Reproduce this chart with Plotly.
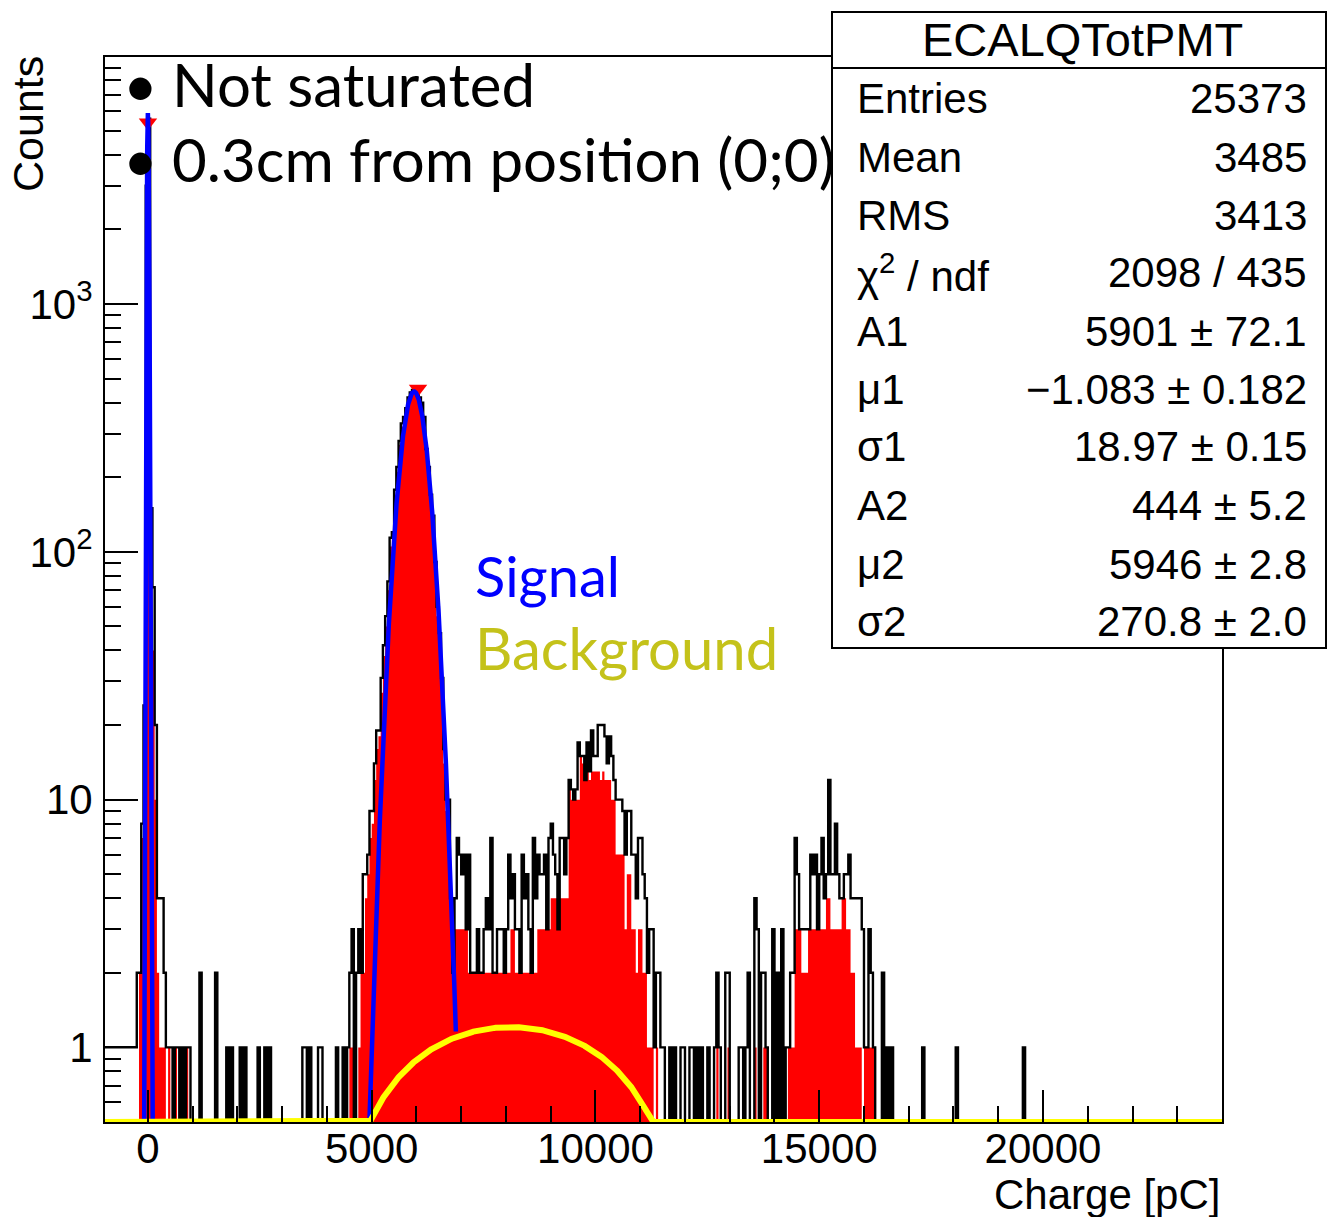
import numpy as np
import plotly.graph_objects as go

# ---------------- data ----------------
BIN_WIDTH = 50          # pC per bin
HIST_START = -1000      # left edge of first bin
N_BINS = 500

# dense block around the pedestal peak, bins starting at -1000 pC
zero_block_start = -1000
zero_black = [1, 1, 1, 1, 1, 1, 1, 1, 1, 1, 1, 1, 1, 1, 1,
              2, 2, 8, 24, 3000, 5600, 150, 72, 20, 4, 4, 4, 2, 1, 1, 1, 0, 1, 1, 0, 1]
zero_red = [0, 0, 0, 0, 0, 0, 0, 0, 0, 0, 0, 0, 0, 0, 0,
            0, 2, 7, 20, 3000, 5600, 150, 40, 10, 2, 1, 1, 1, 0, 1, 0, 0, 1, 0, 0, 0]

# isolated entries between the two peaks
low_bins = [850, 900, 1150, 1500, 1750, 1850, 2050, 2150, 2450, 2600, 2700,
            3450, 3500, 3600, 3800, 3850, 4200]
low_black = [1, 1, 2, 2, 1, 1, 1, 1, 1, 1, 1, 1, 1, 1, 1, 1, 1]
low_red = [1, 0, 1, 0, 0, 0, 0, 0, 0, 0, 0, 0, 0, 0, 0, 0, 0]

# signal peak block, bins starting at 4300 pC
signal_block_start = 4300
signal_black = [0, 1, 0, 1, 2, 3, 0, 2, 3, 2, 5, 5, 6, 9, 9, 14, 19, 19, 31, 42,
                55, 76, 114, 120, 178, 220, 280, 330, 350, 380, 420, 440, 450, 455, 445, 420,
                400, 350, 260, 220, 170, 140, 91, 60, 47, 31, 16, 10, 10]
signal_red = [0, 1, 0, 0, 1, 1, 0, 0, 1, 2, 2, 4, 5, 7, 8, 12, 16, 18, 27, 38,
              50, 70, 105, 115, 165, 210, 270, 320, 345, 375, 415, 435, 445, 450, 440, 415,
              390, 340, 250, 210, 160, 130, 85, 55, 42, 28, 14, 9, 6]

# middle block, bins starting at 6750 pC
mid_block_start = 6750
mid_black = [4, 2, 4, 7, 6, 5, 6, 3, 6, 2,
             2, 2, 3, 2, 2, 3, 4, 3, 7, 2,
             2, 3, 3, 3, 2, 3, 6, 4, 5, 3,
             3, 2, 6, 4, 5, 3, 2, 7, 4, 6,
             5, 5, 6, 3, 7, 8, 6, 5, 3, 7,
             7, 5, 7, 12, 11, 10, 11, 17, 15, 15,
             12, 17, 13, 19, 15, 15, 20, 20, 20, 18,
             14, 18, 15, 12, 10, 10, 10, 9, 6, 9,
             9, 6, 6, 4, 7, 7, 5, 4, 2, 3,
             3, 1, 2, 2]
mid_red = [4, 2, 3, 3, 3, 3, 3, 3, 2, 2,
           2, 2, 2, 2, 2, 2, 2, 2, 2, 2,
           2, 2, 2, 2, 2, 2, 2, 3, 3, 2,
           2, 2, 2, 2, 2, 2, 2, 2, 2, 3,
           3, 3, 3, 3, 3, 4, 4, 4, 3, 4,
           4, 4, 4, 11, 10, 10, 10, 10, 15, 14,
           12, 13, 12, 13, 13, 13, 13, 12, 13, 12,
           12, 12, 10, 10, 6, 6, 6, 6, 3, 5,
           5, 3, 3, 2, 3, 3, 2, 2, 1, 1,
           1, 0, 1, 0]

# right cluster (sparse bins)
right_bins = [11450, 11500, 11650, 11750, 11900, 11950, 12100, 12150, 12250, 12350,
              12500, 12650, 12700, 12750, 12900, 12950, 13200, 13250, 13350, 13400,
              13550, 13600, 13700, 13750, 13800, 13950, 14050, 14150, 14250, 14300,
              14350, 14400, 14450, 14500, 14550, 14600, 14650, 14700, 14750, 14800,
              14850, 14900, 14950, 15000, 15050, 15100, 15150, 15200, 15250, 15300,
              15350, 15400, 15450, 15500, 15550, 15600, 15650, 15700, 15750, 15800,
              15850, 15900, 15950, 16000, 16050, 16100, 16150, 16200, 16400, 16500,
              16600]
right_black = [1, 1, 1, 1, 1, 1, 1, 1, 1, 1,
               1, 1, 2, 1, 2, 2, 1, 1, 1, 2,
               4, 3, 2, 2, 1, 3, 2, 3, 1, 1,
               2, 2, 7, 5, 3, 3, 3, 3, 3, 6,
               5, 6, 3, 5, 7, 4, 5, 12, 5, 5,
               8, 5, 4, 4, 5, 5, 6, 4, 4, 4,
               4, 4, 3, 1, 1, 3, 2, 1, 2, 1,
               1]
right_red = [0, 0, 0, 0, 0, 0, 0, 0, 0, 0,
             0, 0, 1, 0, 0, 1, 0, 0, 0, 0,
             1, 0, 0, 1, 1, 1, 0, 0, 0, 1,
             1, 1, 3, 3, 3, 2, 2, 2, 3, 3,
             3, 3, 3, 3, 3, 3, 4, 4, 3, 3,
             3, 3, 3, 4, 4, 3, 3, 2, 2, 1,
             1, 1, 0, 1, 1, 1, 1, 1, 0, 0,
             0]

tail_bins = [17300, 18050, 19550]
tail_black = [1, 1, 1]

# fit parameters (from the stats box) and background shape
A1, MU1, SIGMA1 = 5901.0, -1.083, 18.97
A2, MU2, SIGMA2 = 444.0, 5946.0, 270.8
SIGNAL_RANGE = (-300, 6880)
BKG_PEAK, BKG_CENTER, BKG_CURV = 1.208, 8110.0, 7.14e-8

# peak markers
peak_x = [0, 6035]
peak_y = [5400, 455]

# axes
X_MIN, X_MAX = -960, 24000
LOG_Y_MIN, LOG_Y_MAX = -0.301, 3.997
x_tick_vals = [0, 5000, 10000, 15000, 20000]
x_tick_text = ["0", "5000", "10000", "15000", "20000"]
y_tick_vals = [1, 10, 100, 1000]
y_tick_text = ["1", "10", "10<sup>2</sup>", "10<sup>3</sup>"]

stats_title = "ECALQTotPMT"
stats_labels = ["Entries", "Mean", "RMS", "χ<sup>2</sup> / ndf", "A1", "μ1", "σ1", "A2", "μ2", "σ2"]
stats_values = ["25373", "3485", "3413", "2098 / 435", "5901 ± 72.1", "−1.083 ± 0.182",
                "18.97 ± 0.15", "444 ± 5.2", "5946 ± 2.8", "270.8 ± 2.0"]

# ---------------- build histograms ----------------
black = np.zeros(N_BINS)
red = np.zeros(N_BINS)


def put_block(arr, start, vals):
    i0 = (start - HIST_START) // BIN_WIDTH
    arr[i0:i0 + len(vals)] = vals


def put_sparse(arr, bins, vals):
    for b, v in zip(bins, vals):
        arr[(b - HIST_START) // BIN_WIDTH] = v


put_block(black, zero_block_start, zero_black)
put_block(red, zero_block_start, zero_red)
put_sparse(black, low_bins, low_black)
put_sparse(red, low_bins, low_red)
put_block(black, signal_block_start, signal_black)
put_block(red, signal_block_start, signal_red)
put_block(black, mid_block_start, mid_black)
put_block(red, mid_block_start, mid_red)
put_sparse(black, right_bins, right_black)
put_sparse(red, right_bins, right_red)
put_sparse(black, tail_bins, tail_black)

FLOOR = 1e-3
edges = HIST_START + BIN_WIDTH * np.arange(N_BINS + 1)
black_step = np.where(np.append(black, black[-1]) > 0, np.append(black, black[-1]), FLOOR)
red_step = np.where(np.append(red, red[-1]) > 0, np.append(red, red[-1]), FLOOR)

Y_MIN = 10 ** LOG_Y_MIN
xs = np.linspace(SIGNAL_RANGE[0], SIGNAL_RANGE[1], 3591)
sig = A1 * np.exp(-0.5 * ((xs - MU1) / SIGMA1) ** 2) + A2 * np.exp(-0.5 * ((xs - MU2) / SIGMA2) ** 2)
sig = np.maximum(sig, Y_MIN)
xb = np.linspace(X_MIN, X_MAX, 2500)
bkg = np.maximum(BKG_PEAK - BKG_CURV * (xb - BKG_CENTER) ** 2, Y_MIN)

# ---------------- figure ----------------
fig = go.Figure()
fig.add_trace(go.Scatter(x=[edges[0], edges[-1]], y=[FLOOR, FLOOR], mode="lines",
                         line=dict(width=0), hoverinfo="skip", showlegend=False))
fig.add_trace(go.Scatter(x=edges, y=red_step, mode="lines",
                         line=dict(width=0, shape="hv", color="#ff0000"),
                         fill="tonexty", fillcolor="#ff0000", showlegend=False))
fig.add_trace(go.Scatter(x=edges, y=black_step, mode="lines",
                         line=dict(color="black", width=2.4, shape="hv"), showlegend=False))
fig.add_trace(go.Scatter(x=peak_x, y=peak_y, mode="markers",
                         marker=dict(symbol="triangle-down", size=16, color="#ff0000",
                                     line=dict(width=0)), showlegend=False))
fig.add_trace(go.Scatter(x=xs, y=sig, mode="lines", line=dict(color="#0000ff", width=4.5),
                         showlegend=False))
fig.add_trace(go.Scatter(x=xb, y=bkg, mode="lines", line=dict(color="#ffff00", width=6),
                         showlegend=False))

W, H = 1327, 1217
L, R, T, B = 105, 1222, 57, 1122


def px(xp):
    return (xp - L) / (R - L)


def py(yp):
    return (B - yp) / (B - T)


HELV = "Liberation Sans"
GILL = "Lato"

annotations = []
# axis titles
annotations.append(dict(text="Counts", x=px(28), y=py(124), xref="paper", yref="paper",
                        textangle=-90, showarrow=False, xanchor="center", yanchor="middle",
                        font=dict(family=HELV, size=43, color="black")))
annotations.append(dict(text="Charge [pC]", x=1.0, y=py(1194), xref="paper", yref="paper",
                        showarrow=False, xanchor="right", yanchor="middle",
                        font=dict(family=HELV, size=42, color="black")))
# bullet lines
for yy, txt in [(84, "Not saturated"), (159, "0.3cm from position (0;0)")]:
    annotations.append(dict(text="•", x=px(140), y=py(yy), xref="paper", yref="paper",
                            showarrow=False, xanchor="center", yanchor="middle",
                            font=dict(family=GILL, size=60, color="black")))
    annotations.append(dict(text=txt, x=px(170), y=py(yy), xref="paper", yref="paper",
                            showarrow=False, xanchor="left", yanchor="middle",
                            font=dict(family=GILL, size=60, color="black")))
annotations.append(dict(text="Signal", x=px(473), y=py(575), xref="paper", yref="paper",
                        showarrow=False, xanchor="left", yanchor="middle",
                        font=dict(family=GILL, size=56, color="#0000ff")))
annotations.append(dict(text="Background", x=px(473), y=py(647), xref="paper", yref="paper",
                        showarrow=False, xanchor="left", yanchor="middle",
                        font=dict(family=GILL, size=58, color="#c4c21a")))
# stats box text
annotations.append(dict(text=stats_title, x=px(1082), y=py(40), xref="paper", yref="paper",
                        showarrow=False, xanchor="center", yanchor="middle",
                        font=dict(family=HELV, size=47, color="black")))
row_y = [99, 157, 215, 273, 331, 389, 447, 506, 564, 621]
for yy, lab, val in zip(row_y, stats_labels, stats_values):
    annotations.append(dict(text=lab, x=px(855), y=py(yy), xref="paper", yref="paper",
                            showarrow=False, xanchor="left", yanchor="middle",
                            font=dict(family=HELV, size=42, color="black")))
    annotations.append(dict(text=val, x=px(1309), y=py(yy), xref="paper", yref="paper",
                            showarrow=False, xanchor="right", yanchor="middle",
                            font=dict(family=HELV, size=42, color="black")))

shapes = [
    dict(type="rect", xref="paper", yref="paper", x0=px(832), x1=px(1326), y0=py(648), y1=py(12),
         fillcolor="white", line=dict(color="black", width=2), layer="above"),
    dict(type="line", xref="paper", yref="paper", x0=px(832), x1=px(1326), y0=py(68), y1=py(68),
         line=dict(color="black", width=2), layer="above"),
]

minor_y = ([0.6, 0.7, 0.8, 0.9] + [d * m for m in (1, 10, 100, 1000) for d in range(2, 10)])

fig.update_layout(
    width=W, height=H,
    margin=dict(l=L, r=W - R, t=T, b=H - B),
    plot_bgcolor="white", paper_bgcolor="white",
    showlegend=False,
    annotations=annotations,
    shapes=shapes,
    xaxis=dict(range=[X_MIN, X_MAX], tickvals=x_tick_vals, ticktext=x_tick_text,
               ticks="inside", ticklen=32, tickwidth=1.5, tickcolor="black",
               minor=dict(dtick=1000, tick0=0, ticks="inside", ticklen=16, tickwidth=1.5,
                          tickcolor="black"),
               showline=True, linecolor="black", linewidth=2, mirror=True,
               showgrid=False, zeroline=False, ticklabelstandoff=-11,
               tickfont=dict(family=HELV, size=42, color="black")),
    yaxis=dict(type="log", range=[LOG_Y_MIN, LOG_Y_MAX], tickvals=y_tick_vals,
               ticktext=y_tick_text, ticks="inside", ticklen=33, tickwidth=1.5,
               tickcolor="black",
               minor=dict(tickvals=minor_y, ticks="inside", ticklen=16, tickwidth=1.5,
                          tickcolor="black"),
               showline=True, linecolor="black", linewidth=2, mirror=True,
               showgrid=False, zeroline=False, ticklabelstandoff=2,
               tickfont=dict(family=HELV, size=42, color="black")),
)

fig.write_html("out.html", config={"displayModeBar": False})
